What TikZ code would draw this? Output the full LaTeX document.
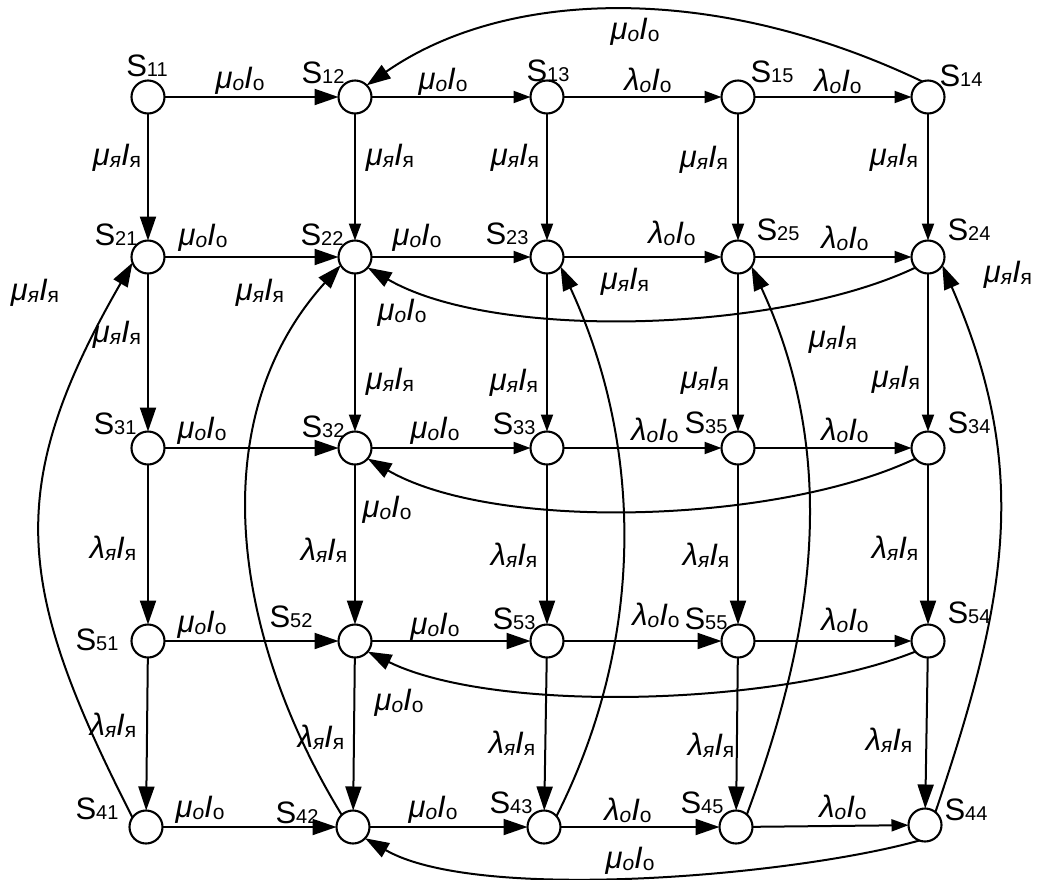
\documentclass[tikz,border=0pt]{standalone}
\usepackage{fontspec}
\setmainfont{Liberation Sans}
\usetikzlibrary{arrows.meta}
\newcommand{\snm}[1]{S{\fontsize{20}{20}\selectfont #1}}
\newcommand{\sbi}[1]{\raisebox{-2pt}{\fontsize{21}{21}\selectfont\itshape #1}}
\newcommand{\sbu}[1]{\raisebox{-2pt}{\fontsize{21}{21}\selectfont #1}}
\newcommand{\muo}{{\itshape μ}\sbi{о}{\itshape I}\sbu{о}}
\newcommand{\lamo}{{\itshape λ}\sbi{о}{\itshape I}\sbu{о}}
\newcommand{\muya}{{\itshape μ}\sbi{я}{\itshape I}\sbu{я}}
\newcommand{\lamya}{{\itshape λ}\sbi{я}{\itshape I}\sbu{я}}
\begin{document}
\begin{tikzpicture}[x=1pt,y=-1pt,
  st/.style={circle, draw, line width=2.1pt, minimum size=33pt, inner sep=0pt, outer sep=0pt, fill=white},
  lbl/.style={inner sep=0pt, font=\fontsize{31}{31}\selectfont},
  ed/.style={line width=2pt},
  big/.style={ed, -{Triangle[length=24pt,width=16pt]}},
  sml/.style={ed, -{Triangle[length=17pt,width=12pt]}}]
\useasboundingbox (0,0) rectangle (1037,879);
% states
\node[st] (n11) at (148,97) {};
\node[st] (n12) at (355,97) {};
\node[st] (n13) at (547,97) {};
\node[st] (n15) at (738,97) {};
\node[st] (n14) at (928,97) {};
\node[st] (n21) at (148,257) {};
\node[st] (n22) at (355,257) {};
\node[st] (n23) at (547,257) {};
\node[st] (n25) at (738,257) {};
\node[st] (n24) at (928,257) {};
\node[st] (n31) at (148,448) {};
\node[st] (n32) at (355,448) {};
\node[st] (n33) at (547,448) {};
\node[st] (n35) at (738,448) {};
\node[st] (n34) at (928,448) {};
\node[st] (n51) at (148,641) {};
\node[st] (n52) at (355,641) {};
\node[st] (n53) at (547,641) {};
\node[st] (n55) at (738,641) {};
\node[st] (n54) at (928,641) {};
\node[st] (n41) at (146,827) {};
\node[st] (n42) at (353,827) {};
\node[st] (n43) at (544,827) {};
\node[st] (n45) at (736,827) {};
\node[st] (n44) at (925,825) {};
% state names
\node[lbl] (t11) at (147,66) {\snm{11}};
\node[lbl] (t12) at (323,73) {\snm{12}};
\node[lbl] (t13) at (548,71) {\snm{13}};
\node[lbl] (t15) at (772,72) {\snm{15}};
\node[lbl] (t14) at (961,76) {\snm{14}};
\node[lbl] (t21) at (116,235) {\snm{21}};
\node[lbl] (t22) at (322,235) {\snm{22}};
\node[lbl] (t23) at (507,234) {\snm{23}};
\node[lbl] (t25) at (778,230) {\snm{25}};
\node[lbl] (t24) at (969,230) {\snm{24}};
\node[lbl] (t31) at (115,424) {\snm{31}};
\node[lbl] (t32) at (323,427) {\snm{32}};
\node[lbl] (t33) at (514,424) {\snm{33}};
\node[lbl] (t35) at (706,423) {\snm{35}};
\node[lbl] (t34) at (969,423) {\snm{34}};
\node[lbl] (t51) at (97,640) {\snm{51}};
\node[lbl] (t52) at (291,617) {\snm{52}};
\node[lbl] (t53) at (514,619) {\snm{53}};
\node[lbl] (t55) at (706,619) {\snm{55}};
\node[lbl] (t54) at (969,613) {\snm{54}};
\node[lbl] (t41) at (97,809) {\snm{41}};
\node[lbl] (t42) at (297,813) {\snm{42}};
\node[lbl] (t43) at (511,803) {\snm{43}};
\node[lbl] (t45) at (702,803) {\snm{45}};
\node[lbl] (t44) at (966,810) {\snm{44}};
% horizontal edges
\draw[big] (n11) -- (n12);
\draw[sml] (n12) -- (n13);
\draw[sml] (n13) -- (n15);
\draw[sml] (n15) -- (n14);
\draw[big] (n21) -- (n22);
\draw[sml] (n22) -- (n23);
\draw[sml] (n23) -- (n25);
\draw[sml] (n25) -- (n24);
\draw[big] (n31) -- (n32);
\draw[sml] (n32) -- (n33);
\draw[sml] (n33) -- (n35);
\draw[sml] (n35) -- (n34);
\draw[big] (n51) -- (n52);
\draw[big] (n52) -- (n53);
\draw[big] (n53) -- (n55);
\draw[sml] (n55) -- (n54);
\draw[big] (n41) -- (n42);
\draw[big] (n42) -- (n43);
\draw[big] (n43) -- (n45);
\draw[sml] (n45) -- (n44);
% vertical edges
\draw[big] (n11) -- (n21);
\draw[big] (n21) -- (n31);
\draw[big] (n31) -- (n51);
\draw[big] (n51) -- (n41);
\draw[sml] (n12) -- (n22);
\draw[sml] (n22) -- (n32);
\draw[big] (n32) -- (n52);
\draw[big] (n52) -- (n42);
\draw[sml] (n13) -- (n23);
\draw[sml] (n23) -- (n33);
\draw[big] (n33) -- (n53);
\draw[big] (n53) -- (n43);
\draw[sml] (n15) -- (n25);
\draw[sml] (n25) -- (n35);
\draw[big] (n35) -- (n55);
\draw[big] (n55) -- (n45);
\draw[sml] (n14) -- (n24);
\draw[sml] (n24) -- (n34);
\draw[big] (n34) -- (n54);
\draw[big] (n54) -- (n44);
% curved return edges (horizontal)
\draw[big] (n14.110) .. controls (715,-17.5) and (506,-12) .. (n12.45);
\draw[big] (n24.220) .. controls (779,332.5) and (495,341.5) .. (n22.-40);
\draw[big] (n34.220) .. controls (779,523.5) and (495,532.5) .. (n32.-40);
\draw[big] (n54.220) .. controls (779,706) and (495,714) .. (n52.-40);
\draw[big] (n44.250) .. controls (794.4,875.6) and (478.2,903.3) .. (n42.-43);
% curved return edges (vertical)
\draw[big] (n41.145) .. controls (15.5,587.5) and (2.5,488.6) .. (n21.200);
\draw[big] (n42.133) .. controls (233,637.2) and (200.7,420) .. (n22.210);
\draw[big] (n43.41) .. controls (645.5,640) and (643.7,446.7) .. (n23.-35);
\draw[big] (n45.49) .. controls (818.2,622.7) and (837.2,452.1) .. (n25.-35);
\draw[big] (n44.51) .. controls (1006.8,600.3) and (1031.5,470.5) .. (n24.-30);
% labels of horizontal edges
\node[lbl] (h1a) at (240,81) {\muo};
\node[lbl] (h1b) at (443,82) {\muo};
\node[lbl] (h1c) at (648,80) {\lamo};
\node[lbl] (h1d) at (838,81) {\lamo};
\node[lbl] (h2a) at (203,238) {\muo};
\node[lbl] (h2b) at (417,238) {\muo};
\node[lbl] (h2c) at (672,233) {\lamo};
\node[lbl] (h2d) at (845,238) {\lamo};
\node[lbl] (h3a) at (202,431) {\muo};
\node[lbl] (h3b) at (435,431) {\muo};
\node[lbl] (h3c) at (655,430) {\lamo};
\node[lbl] (h3d) at (845,430) {\lamo};
\node[lbl] (h5a) at (202,625) {\muo};
\node[lbl] (h5b) at (435,627) {\muo};
\node[lbl] (h5c) at (656,615) {\lamo};
\node[lbl] (h5d) at (845,620) {\lamo};
\node[lbl] (h4a) at (200,810) {\muo};
\node[lbl] (h4b) at (433,810) {\muo};
\node[lbl] (h4c) at (628,810) {\lamo};
\node[lbl] (h4d) at (843,807) {\lamo};
% labels of vertical edges
\node[lbl] (v1a) at (117,158) {\muya};
\node[lbl] (v1b) at (117,335) {\muya};
\node[lbl] (v1c) at (113,548) {\lamya};
\node[lbl] (v1d) at (113,725) {\lamya};
\node[lbl] (v2a) at (390,158) {\muya};
\node[lbl] (v2b) at (390,382) {\muya};
\node[lbl] (v2c) at (324,550) {\lamya};
\node[lbl] (v2d) at (321,737) {\lamya};
\node[lbl] (v3a) at (515,158) {\muya};
\node[lbl] (v3b) at (514,383) {\muya};
\node[lbl] (v3c) at (514,555) {\lamya};
\node[lbl] (v3d) at (512,743) {\lamya};
\node[lbl] (v4a) at (704,160) {\muya};
\node[lbl] (v4b) at (705,381) {\muya};
\node[lbl] (v4c) at (706,555) {\lamya};
\node[lbl] (v4d) at (711,745) {\lamya};
\node[lbl] (v5a) at (894,158) {\muya};
\node[lbl] (v5b) at (896,380) {\muya};
\node[lbl] (v5c) at (895,548) {\lamya};
\node[lbl] (v5d) at (889,740) {\lamya};
% labels of curved edges
\node[lbl] (c1) at (635,32) {\muo};
\node[lbl] (c2) at (402,313) {\muo};
\node[lbl] (c3) at (387,510) {\muo};
\node[lbl] (c4) at (399,703) {\muo};
\node[lbl] (c5) at (630,861) {\muo};
\node[lbl] (d1) at (35,293) {\muya};
\node[lbl] (d2) at (260,293) {\muya};
\node[lbl] (d3) at (625,282) {\muya};
\node[lbl] (d4) at (833,340) {\muya};
\node[lbl] (d5) at (1008,275) {\muya};
\end{tikzpicture}
\end{document}
